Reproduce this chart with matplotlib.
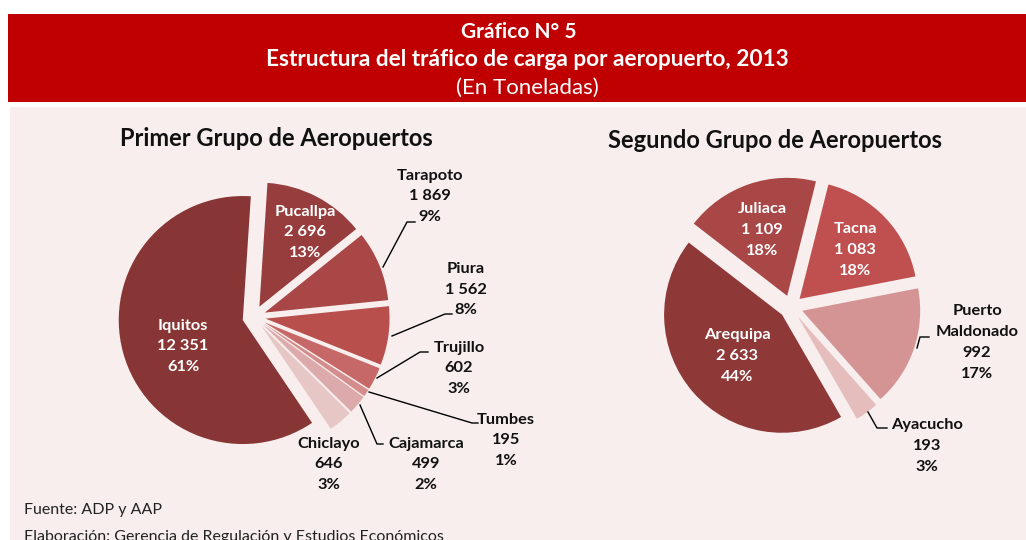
import matplotlib
matplotlib.use("Agg")
import matplotlib.pyplot as plt
from matplotlib.patches import Rectangle

plt.rcParams['font.family'] = ['Lato', 'DejaVu Sans']

# ---------------- data ----------------
g1_names = ["Iquitos", "Pucallpa", "Tarapoto", "Piura", "Trujillo", "Tumbes", "Cajamarca", "Chiclayo"]
g1_values = [12351, 2696, 1869, 1562, 602, 195, 499, 646]
g1_value_labels = ["12 351", "2 696", "1 869", "1 562", "602", "195", "499", "646"]
g1_pct_labels = ["61%", "13%", "9%", "8%", "3%", "1%", "2%", "3%"]

g2_names = ["Arequipa", "Juliaca", "Tacna", "Puerto\nMaldonado", "Ayacucho"]
g2_values = [2633, 1109, 1083, 992, 193]
g2_value_labels = ["2 633", "1 109", "1 083", "992", "193"]
g2_pct_labels = ["44%", "18%", "18%", "17%", "3%"]

title_lines = ["Gráfico N° 5", "Estructura del tráfico de carga por aeropuerto, 2013", "(En Toneladas)"]
sub_titles = ["Primer Grupo de Aeropuertos", "Segundo Grupo de Aeropuertos"]
footer = ["Fuente: ADP y AAP", "Elaboración: Gerencia de Regulación y Estudios Económicos"]

# ---------------- styles / layout ----------------
W, H = 1026, 540
g1_colors = ["#883535", "#983d3d", "#a94646", "#b94f4c", "#c66868", "#d48d8d", "#dcaaaa", "#e7c6c6"]
g2_colors = ["#8e3838", "#a94646", "#c05050", "#d49494", "#e5bdbd"]
RED = "#c00000"
PINK = "#f9eeee"
LFS = 11.8

fig = plt.figure(figsize=(W / 100, H / 100), dpi=100)
fig.patch.set_facecolor("white")

bg = fig.add_axes([0, 0, 1, 1])
bg.set_xlim(0, W)
bg.set_ylim(H, 0)
bg.axis("off")
bg.add_patch(Rectangle((8, 14), W - 8, 87.5, color=RED, lw=0))
bg.add_patch(Rectangle((10, 107), W - 10, H - 107, color=PINK, lw=0))
bg.text(519, 32, title_lines[0], color="white", fontsize=15, fontweight="bold", ha="center", va="center")
bg.text(527, 60, title_lines[1], color="white", fontsize=16.3, fontweight="bold", ha="center", va="center")
bg.text(527, 88, title_lines[2], color="white", fontsize=16, ha="center", va="center")
bg.text(276, 138, sub_titles[0], color="#111111", fontsize=17, fontweight="bold", ha="center", va="center")
bg.text(775, 140, sub_titles[1], color="#111111", fontsize=17, fontweight="bold", ha="center", va="center")
bg.text(24, 510, footer[0], color="#222222", fontsize=11.5, ha="left", va="center")
bg.text(24, 537, footer[1], color="#222222", fontsize=11.5, ha="left", va="center")


def pie_axes(cx, cy, R):
    ax = fig.add_axes([(cx - 2 * R) / W, (H - cy - 2 * R) / H, 4 * R / W, 4 * R / H])
    ax.patch.set_alpha(0)
    return ax


def finish(ax):
    ax.set_xlim(-2, 2)
    ax.set_ylim(-2, 2)
    ax.set_aspect("auto")
    ax.axis("off")


def px(cx, cy, R, x, y):
    return (x - cx) / R, (cy - y) / R


# ---------------- pie 1 ----------------
c1 = (254, 317, 124)
ax1 = pie_axes(*c1)
ax1.pie(g1_values, colors=g1_colors, startangle=90 - 146, counterclock=False,
        explode=[0.094] * len(g1_values), radius=1,
        wedgeprops=dict(linewidth=0))
finish(ax1)

lab_pos1 = {
    "Iquitos": ((183, 326), "white"),
    "Pucallpa": ((305, 212), "white"),
    "Tarapoto": ((430, 176), "#111111"),
    "Piura": ((466, 269), "#111111"),
    "Trujillo": ((459, 348), "#111111"),
    "Tumbes": ((506, 420), "#111111"),
    "Cajamarca": ((426, 444), "#111111"),
    "Chiclayo": ((329, 444), "#111111"),
}
for name, val, pct in zip(g1_names, g1_value_labels, g1_pct_labels):
    (x, y), col = lab_pos1[name]
    for i, t in enumerate([name, val, pct]):
        dx, dy = px(*c1, x, y + i * 20.5)
        ax1.text(dx, dy, t, color=col, fontsize=LFS, fontweight="bold",
                 ha="center", va="center", clip_on=False)

leaders1 = [
    [(383, 267), (407, 222), (415, 222)],
    [(392, 336), (445, 314), (452, 314)],
    [(377, 378), (420, 352), (428, 352)],
    [(369, 392), (472, 423), (478, 423)],
    [(360, 405), (377, 444), (383, 444)],
]
for pts in leaders1:
    d = [px(*c1, x, y) for x, y in pts]
    ax1.plot([p[0] for p in d], [p[1] for p in d], color="black", lw=1, clip_on=False)

# ---------------- pie 2 ----------------
c2 = (791, 307, 118)
ax2 = pie_axes(*c2)
ax2.pie(g2_values, colors=g2_colors, startangle=90 - 150, counterclock=False,
        explode=[0.10] * len(g2_values), radius=1,
        wedgeprops=dict(linewidth=0))
finish(ax2)

lab_pos2 = {
    "Arequipa": ((737, 335), "white"),
    "Juliaca": ((762, 209), "white"),
    "Tacna": ((855, 229), "white"),
    "Puerto\nMaldonado": ((977, 311), "#111111"),
    "Ayacucho": ((927, 425), "#111111"),
}
for name, val, pct in zip(g2_names, g2_value_labels, g2_pct_labels):
    (x, y), col = lab_pos2[name]
    lines = name.split("\n") + [val, pct]
    for i, t in enumerate(lines):
        dx, dy = px(*c2, x, y + i * 21)
        ax2.text(dx, dy, t, color=col, fontsize=LFS, fontweight="bold",
                 ha="center", va="center", clip_on=False)

leaders2 = [
    [(917, 348), (920, 337), (929, 337)],
    [(868, 412), (877, 428), (887, 428)],
]
for pts in leaders2:
    d = [px(*c2, x, y) for x, y in pts]
    ax2.plot([p[0] for p in d], [p[1] for p in d], color="black", lw=1, clip_on=False)

fig.savefig("out.png", dpi=100, facecolor=fig.get_facecolor())
